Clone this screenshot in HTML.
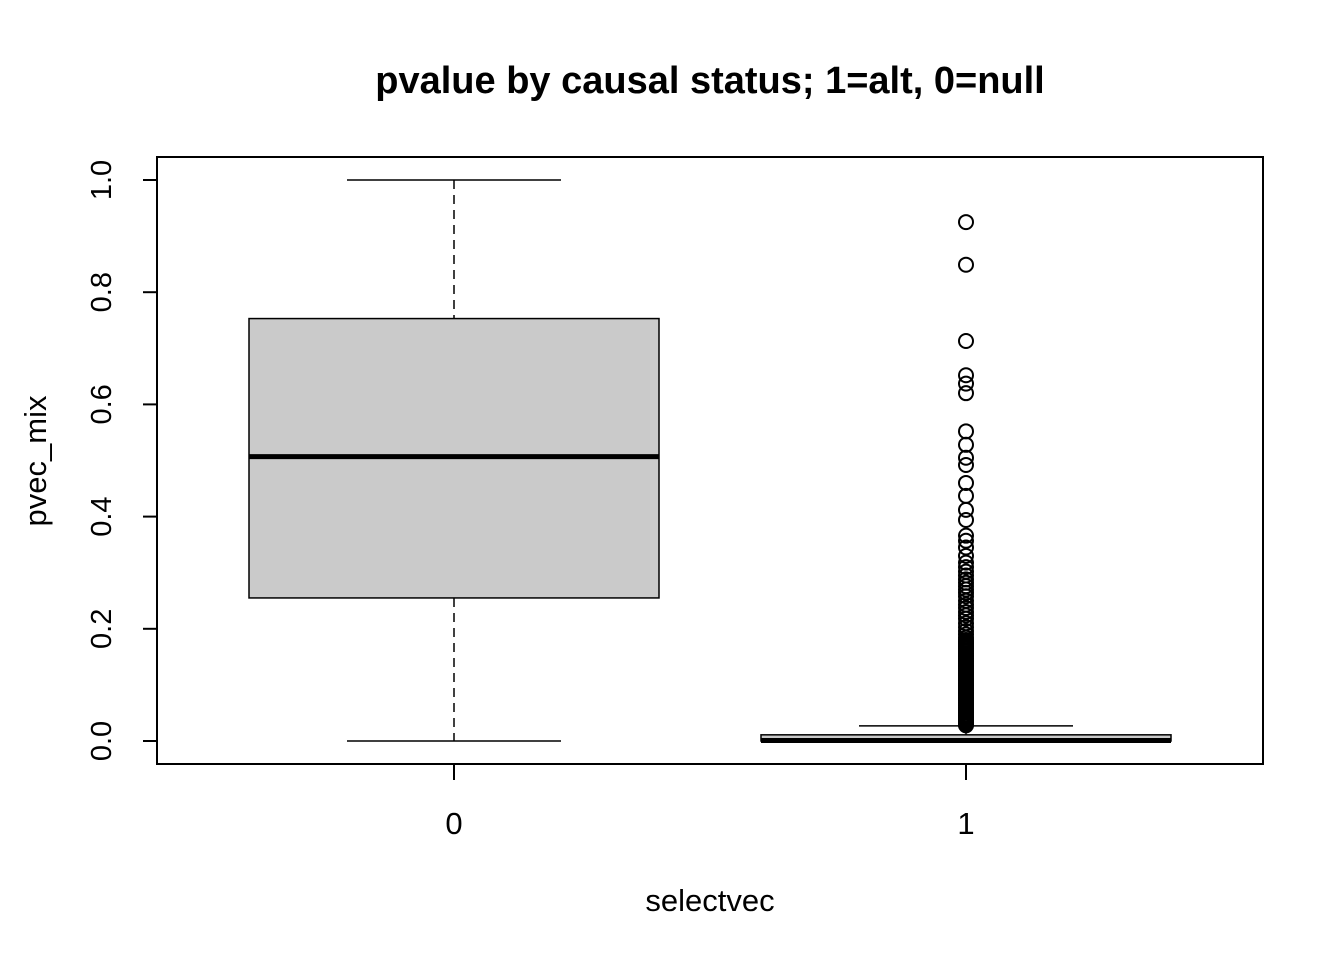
<!DOCTYPE html>
<html><head><meta charset="utf-8"><style>
html,body{margin:0;padding:0;background:#fff;}
svg text{font-family:"Liberation Sans",Arial,sans-serif;fill:#000;}
</style></head><body>
<svg width="1344" height="960" viewBox="0 0 1344 960" xmlns="http://www.w3.org/2000/svg">
<text x="710" y="93" text-anchor="middle" font-size="38" font-weight="bold">pvalue by causal status; 1=alt, 0=null</text>
<rect x="157" y="157" width="1106" height="607" fill="none" stroke="#000" stroke-width="2"/>
<g id="yaxis"></g>
<g id="xaxis"></g>
<g id="boxes"></g>
<g id="outliers"></g>
<text x="710" y="911" text-anchor="middle" font-size="31">selectvec</text>
<text transform="translate(46,461) rotate(-90)" text-anchor="middle" font-size="31">pvec_mix</text>
</svg>
<script>
const categories = ["0","1"];
const yTicks = [0,0.2,0.4,0.6,0.8,1.0];
const yTickLabels = ["0.0","0.2","0.4","0.6","0.8","1.0"];
const whiskerLow = [0,0];
const q1 = [0.255,0];
const medians = [0.507,0.001];
const q3 = [0.753,0.011];
const whiskerHigh = [1.0,0.027];
const outliers1 = [0.925,0.849,0.713,0.652,0.637,0.620,0.552,0.528,0.505,0.492,0.460,0.437,0.412,0.394,0.366,0.357,0.345,0.330,0.318,0.310,0.302,0.295,0.288,0.282,0.276,0.270,0.264,0.258,0.250,0.243,0.237,0.230,0.224,0.218,0.210,0.203,0.196,0.190,0.184,0.180,0.177,0.174,0.171,0.168,0.165,0.162,0.159,0.156,0.153,0.150,0.147,0.144,0.141,0.138,0.135,0.132,0.129,0.126,0.123,0.120,0.117,0.114,0.111,0.108,0.105,0.102,0.099,0.096,0.093,0.090,0.087,0.084,0.081,0.078,0.075,0.072,0.069,0.066,0.063,0.060,0.057,0.054,0.051,0.048,0.045,0.042,0.039,0.036,0.033,0.031,0.029,0.028];
const NS="http://www.w3.org/2000/svg";
const yS=v=>741-v*561;
const xS=i=>454+i*512;
function mk(tag,attrs,parent){const e=document.createElementNS(NS,tag);for(const k in attrs)e.setAttribute(k,attrs[k]);parent.appendChild(e);return e;}
const ya=document.getElementById('yaxis');
mk('line',{x1:157,x2:157,y1:yS(0),y2:yS(1),stroke:'#000','stroke-width':2},ya);
yTicks.forEach((t,i)=>{
 const l=mk('line',{x1:143,x2:157,y1:yS(t),y2:yS(t),stroke:'#000','stroke-width':2},ya);
 
 
 const tx=mk('text',{transform:`translate(111,${yS(t)}) rotate(-90)`,'text-anchor':'middle','font-size':29},ya);
 tx.textContent=yTickLabels[i];
 
 
});
const xa=document.getElementById('xaxis');
mk('line',{x1:xS(0),x2:xS(1),y1:764,y2:764,stroke:'#000','stroke-width':2},xa);
categories.forEach((c,i)=>{
 const l=mk('line',{x1:xS(i),x2:xS(i),y1:764,y2:780,stroke:'#000','stroke-width':2},xa);
 
 
 const tx=mk('text',{x:xS(i),y:834,'text-anchor':'middle','font-size':31},xa);
 tx.textContent=c;
 
 
});
const bx=document.getElementById('boxes');
categories.forEach((c,i)=>{
 const cx=xS(i),hw=205,cw=107;
 const g=mk('g',{},bx);
 
 
 mk('line',{x1:cx,x2:cx,y1:yS(whiskerHigh[i]),y2:yS(q3[i]),stroke:'#000','stroke-width':1.5,'stroke-dasharray':'9,6'},g);
 mk('line',{x1:cx,x2:cx,y1:yS(q1[i]),y2:yS(whiskerLow[i]),stroke:'#000','stroke-width':1.5,'stroke-dasharray':'9,6'},g);
 mk('line',{x1:cx-cw,x2:cx+cw,y1:yS(whiskerHigh[i]),y2:yS(whiskerHigh[i]),stroke:'#000','stroke-width':1.5},g);
 mk('line',{x1:cx-cw,x2:cx+cw,y1:yS(whiskerLow[i]),y2:yS(whiskerLow[i]),stroke:'#000','stroke-width':1.5},g);
 mk('rect',{x:cx-hw,y:yS(q3[i]),width:2*hw,height:Math.max(yS(q1[i])-yS(q3[i]),1),fill:'#cacaca',stroke:'#000','stroke-width':1.5},g);
 mk('line',{x1:cx-hw,x2:cx+hw,y1:yS(medians[i]),y2:yS(medians[i]),stroke:'#000','stroke-width':5},g);
});
const og=document.getElementById('outliers');
outliers1.forEach(v=>{
 const c=mk('circle',{cx:xS(1),cy:yS(v),r:7,fill:'none',stroke:'#000','stroke-width':2},og);
 
 
});
</script>
</body></html>
